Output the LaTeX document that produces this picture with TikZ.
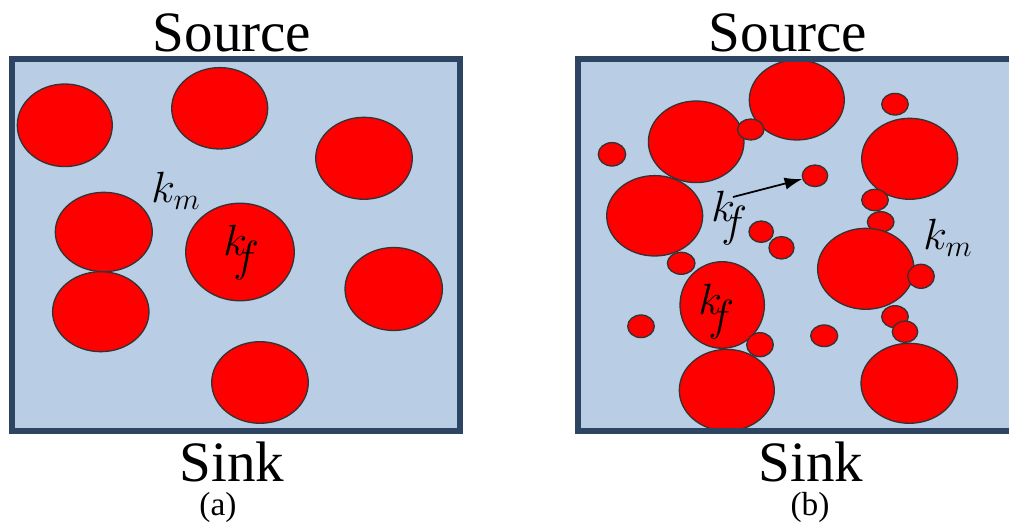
\documentclass[tikz,border=0pt]{standalone}
\usepackage{fontspec}
\setmainfont{Liberation Serif}
\usetikzlibrary{shapes.geometric,arrows.meta}
\definecolor{matrixblue}{RGB}{185,205,229}
\definecolor{frameblue}{RGB}{45,68,98}
\begin{document}
\begin{tikzpicture}[x=0.02cm, y=-0.02cm,
  grain/.style n args={2}{ellipse, draw=black!80, line width=0.75pt, fill=red,
    inner sep=0pt, minimum width=#1*0.04cm, minimum height=#2*0.04cm},
  boxline/.style={draw=frameblue, line width=2.9pt},
  endlabel/.style={anchor=base, inner sep=0pt, font=\fontsize{32.5}{36}\selectfont},
  subcaption/.style={anchor=base, inner sep=0pt, font=\fontsize{19}{22}\selectfont},
  kbig/.style={anchor=base west, inner sep=0pt, font=\fontsize{31}{34}\selectfont},
  ksmall/.style={anchor=base west, inner sep=0pt, font=\fontsize{26}{30}\selectfont}]
  \clip (0,0) rectangle (1009,523);

  % (a) matris
  \fill[matrixblue] (12,59) rectangle (460,431);
  \node[grain={47.5}{41.3}] (a1) at (64.8,125.3) {};
  \node[grain={48}{40.7}] (a2) at (219.7,108.3) {};
  \node[grain={48.3}{41}] (a3) at (364,158.3) {};
  \node[grain={48.5}{39.7}] (a4) at (103.8,232) {};
  \node[grain={54.3}{48.8}] (a5) at (240,252) {};
  \node[grain={48.2}{40}] (a6) at (100.8,311.7) {};
  \node[grain={48.7}{41.5}] (a7) at (393.7,289) {};
  \node[grain={48.3}{40.8}] (a8) at (260,382.5) {};
  \draw[boxline] (12,59) rectangle (460,431);

  \node[ksmall] (kma) at (151,203) {$k_m$};
  \node[kbig] (kfa) at (223,256) {$k_{\!\!\textstyle f}$};
  \node[endlabel] (srca) at (232,52) {Source};
  \node[endlabel] (snka) at (232,482) {Sink};
  \node[subcaption] (capa) at (218,516) {(a)};

  % (b) matris
  \fill[matrixblue] (578,59) rectangle (1030,431);
  \node[grain={47.5}{40}] (b1) at (796.8,100) {};
  \node[grain={47.8}{40.8}] (b2) at (696.2,141.8) {};
  \node[grain={13.2}{10.5}] (s1) at (750.8,129.5) {};
  \node[grain={13.7}{11.7}] (s2) at (612,154.3) {};
  \node[grain={48}{40.2}] (b3) at (654.7,215.8) {};
  \node[grain={12.7}{10.8}] (s3) at (815,175.8) {};
  \node[grain={12.2}{10.7}] (s4) at (761.2,231.7) {};
  \node[grain={12.5}{11.2}] (s5) at (781.5,247.8) {};
  \node[grain={13.8}{11}] (s6) at (681.2,263.3) {};
  \node[grain={42.2}{43.3}] (b4) at (722.2,305) {};
  \node[grain={13.3}{11.3}] (s7) at (641,326.3) {};
  \node[grain={13.3}{12}] (s8) at (760,344.7) {};
  \node[grain={47.5}{40.8}] (b5) at (726.8,390.2) {};
  \node[grain={13.5}{10.8}] (s9) at (824.2,335.8) {};
  \node[grain={13.3}{10.8}] (s10) at (895,104.2) {};
  \node[grain={48}{40.5}] (b6) at (909.7,158.8) {};
  \node[grain={13.3}{10.7}] (s11) at (875,200) {};
  \node[grain={13.3}{10.3}] (s12) at (880.7,222) {};
  \node[grain={48.2}{40.5}] (b7) at (865.8,268.8) {};
  \node[grain={13.3}{12}] (s13) at (921,276.3) {};
  \node[grain={13.3}{11}] (s14) at (895,316.7) {};
  \node[grain={12.7}{10.7}] (s15) at (905,331.7) {};
  \node[grain={48.3}{40}] (b8) at (909.3,383.3) {};
  \draw[boxline] (578,59) rectangle (1030,431);

  \node[kbig] (kfb1) at (711,221.7) {$k_{\!\!\textstyle f}$};
  \node[kbig] (kfb2) at (698,315) {$k_{\!\!\textstyle f}$};
  \node[ksmall] (kmb) at (923,250) {$k_m$};
  \coordinate (kfstart) at (733,197);
  \draw[line width=1pt, -{Latex[length=10pt, width=7pt]}] (kfstart) -- (s3);

  \node[endlabel] (srcb) at (788,52) {Source};
  \node[endlabel] (snkb) at (811,482) {Sink};
  \node[subcaption] (capb) at (810,516) {(b)};
\end{tikzpicture}
\end{document}
